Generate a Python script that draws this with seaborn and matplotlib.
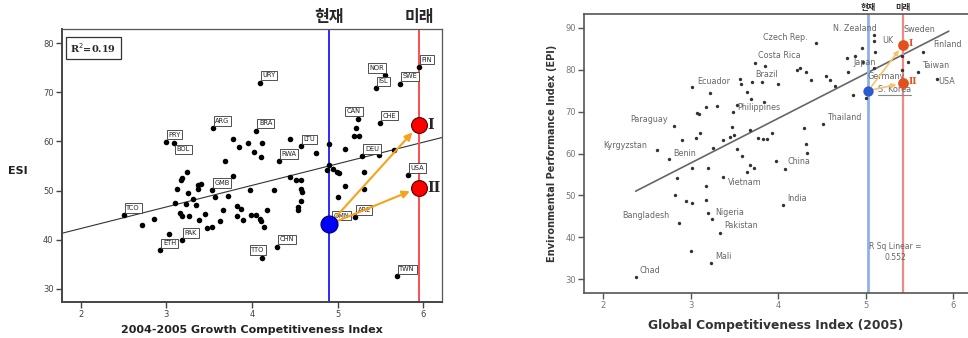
import numpy as np
import pandas as pd
import matplotlib
matplotlib.use("Agg")
import matplotlib.pyplot as plt
import seaborn as sns

# ---------------- left panel data (ESI vs GCI 2004-2005) ----------------
left_gci = [2.50, 2.72, 2.85, 2.93, 2.99, 3.09, 3.03, 3.10, 3.12, 3.16, 3.18, 3.17, 3.18, 3.18,
            3.24, 3.23, 3.25, 3.27, 3.31, 3.35, 3.37, 3.41, 3.37, 3.38, 3.45, 3.48, 3.53, 3.53,
            3.54, 3.57, 3.63, 3.66, 3.68, 3.72, 3.78, 3.78, 3.82, 3.82, 3.85, 3.87, 3.89, 3.95,
            3.98, 3.99, 4.02, 4.05, 4.05, 4.09, 4.09, 4.11, 4.11, 4.12, 4.12, 4.14, 4.17, 4.26,
            4.29, 4.31, 4.44, 4.44, 4.52, 4.57, 4.57, 4.57, 4.58, 4.57, 4.54, 4.54, 4.75, 4.88,
            4.90, 4.90, 4.95, 4.99, 5.02, 5.00, 5.09, 5.09, 5.20, 5.19, 5.25, 5.22, 5.24, 5.29,
            5.31, 5.31, 5.45, 5.48, 5.49, 5.56, 5.66, 5.69, 5.73, 5.82, 5.95, 4.92]
left_esi = [45.0, 42.9, 44.2, 37.8, 59.9, 59.7, 41.2, 47.5, 50.3, 45.4, 44.8, 52.2, 52.6, 39.9,
            53.7, 47.3, 49.5, 44.8, 48.2, 47.1, 51.2, 51.4, 50.3, 44.1, 45.3, 42.4, 42.5, 50.1,
            62.7, 48.6, 43.7, 46.1, 56.1, 48.8, 52.9, 60.4, 46.8, 44.8, 58.9, 46.2, 44.1, 59.7,
            50.1, 45.0, 57.8, 62.2, 45.1, 44.2, 72.0, 43.7, 56.9, 59.7, 36.3, 42.6, 46.1, 50.2,
            38.6, 56.0, 60.5, 52.8, 52.1, 52.1, 59.0, 50.3, 49.7, 47.8, 46.7, 46.1, 57.7, 54.1,
            59.4, 55.3, 54.3, 53.7, 53.6, 48.7, 58.4, 50.9, 44.6, 61.1, 61.1, 62.8, 64.5, 57.0,
            53.7, 50.3, 70.8, 57.3, 63.8, 73.5, 58.2, 32.5, 71.8, 53.1, 75.2, 43.4]
left_codes = ["TCO", "", "", "ETH", "PRY", "BOL", "", "", "", "", "", "", "", "PAK",
              "", "", "", "", "", "", "", "", "", "", "", "", "", "GMB",
              "ARG", "", "", "", "", "", "", "", "", "", "", "", "", "",
              "", "", "", "BRA", "", "", "URY", "", "", "", "TTO", "", "", "",
              "CHN", "RWA", "", "", "", "", "LTU", "", "", "", "", "", "", "",
              "", "", "", "", "", "", "", "", "ARE", "", "", "", "CAN", "DEU",
              "", "", "ISL", "", "CHE", "NOR", "", "TWN", "SWE", "USA", "FIN", "OMN"]
left_label_mode = {"BOL": "below", "NOR": "left", "TTO": "center", "CAN": "center"}
left_fit_x = [1.78, 6.22]
left_fit_y = [41.3, 60.8]
left_now = (4.90, 43.1)
left_future_x = [5.95, 5.95]
left_future_y = [63.3, 50.6]
future_tags = ["I", "II"]
left_r2_text = "R$^2$=0.19"

# ---------------- right panel data (EPI vs GCI 2005) ----------------
right_gci = [2.38, 2.62, 2.75, 2.81, 2.82, 2.84, 2.87, 2.90, 2.95, 3.00, 3.01, 3.01, 3.01, 3.06,
             3.07, 3.09, 3.11, 3.17, 3.18, 3.18, 3.20, 3.20, 3.22, 3.23, 3.24, 3.26, 3.30, 3.34,
             3.37, 3.37, 3.45, 3.47, 3.48, 3.50, 3.53, 3.53, 3.56, 3.57, 3.59, 3.64, 3.64, 3.68,
             3.68, 3.69, 3.70, 3.72, 3.74, 3.77, 3.81, 3.83, 3.84, 3.85, 3.87, 3.93, 3.97, 4.00,
             4.05, 4.08, 4.21, 4.25, 4.29, 4.32, 4.32, 4.33, 4.38, 4.43, 4.51, 4.55, 4.59, 4.65,
             4.79, 4.80, 4.85, 4.88, 4.96, 4.97, 5.00, 5.09, 5.10, 5.11, 5.09, 5.41, 5.48, 5.41,
             5.60, 5.66, 5.81]
right_epi = [30.5, 60.8, 58.6, 66.6, 50.0, 54.2, 43.5, 63.2, 48.6, 36.7, 48.2, 56.6, 75.8, 63.6,
             69.6, 69.4, 65.0, 48.8, 52.2, 71.0, 56.6, 45.7, 74.4, 33.9, 44.4, 61.3, 71.4, 41.1,
             54.5, 63.2, 64.0, 66.4, 69.8, 64.4, 61.0, 71.5, 77.8, 76.6, 59.3, 74.8, 55.7, 57.2,
             65.6, 73.0, 77.1, 56.6, 81.7, 63.8, 77.1, 63.4, 72.3, 80.8, 63.4, 65.0, 58.2, 76.6,
             47.6, 56.4, 80.0, 80.5, 66.2, 79.4, 62.2, 60.2, 77.6, 86.5, 67.0, 78.5, 77.6, 76.0,
             82.7, 79.5, 73.9, 83.3, 85.3, 81.8, 73.2, 88.3, 86.9, 84.3, 80.4, 83.3, 81.9, 80.0,
             79.5, 84.3, 77.9]
right_names = ["Chad", "Mali", "Bangladesh", "Nigeria", "Pakistan", "Vietnam", "India", "China",
               "Benin", "Kyrgyzstan", "Paraguay", "Thailand", "Philippines", "Ecuador", "Brazil",
               "Costa Rica", "Czech Rep.", "N. Zealand", "Japan", "Germany", "UK", "Sweden",
               "Finland", "Taiwan", "USA", "S. Korea"]
right_name_x = [2.42, 3.28, 2.22, 3.28, 3.38, 3.42, 4.10, 4.11, 2.80, 2.00, 2.31, 4.56, 3.53,
                3.07, 3.74, 3.77, 3.83, 4.63, 4.86, 5.02, 5.19, 5.43, 5.77, 5.65, 5.83, 5.14]
right_name_y = [32.1, 35.4, 45.2, 45.9, 42.8, 53.1, 49.3, 58.0, 60.0, 62.0, 68.2, 68.7, 71.1,
                77.1, 78.9, 83.3, 87.6, 89.9, 81.8, 78.3, 86.9, 89.7, 86.1, 80.9, 77.1, 75.4]
right_fit_x = [2.37, 5.95]
right_fit_y = [51.0, 89.2]
right_now = (5.03, 75.0)
right_future_x = [5.43, 5.43]
right_future_y = [86.0, 76.8]
right_r2_text = "R Sq Linear =\n0.552"

now_label = "현재"
future_label = "미래"

# ---------------- figure ----------------
sns.set_style("white")
plt.rcParams["font.family"] = ["DejaVu Sans", "Noto Sans CJK KR"]
KFONT = ["Noto Sans CJK KR", "DejaVu Sans"]

fig = plt.figure(figsize=(9.68, 3.38), dpi=100)
axL = fig.add_axes([0.064, 0.1065, 0.3926, 0.8077])
axR = fig.add_axes([0.6033, 0.1331, 0.3967, 0.8254])

# ======== LEFT ========
dfL = pd.DataFrame({"gci": left_gci, "esi": left_esi, "code": left_codes})
sns.lineplot(x=left_fit_x, y=left_fit_y, ax=axL, color="#333333", lw=0.8, zorder=2)
sns.scatterplot(data=dfL, x="gci", y="esi", ax=axL, color="black", s=16,
                edgecolor="black", linewidth=0, zorder=3)
box = dict(boxstyle="square,pad=0.25", fc="white", ec="#333333", lw=0.6)
for _, r in dfL[dfL["code"] != ""].iterrows():
    mode = left_label_mode.get(r["code"], "ur")
    if mode == "below":
        off, ha, va = (2, -2.5), "left", "top"
    elif mode == "left":
        off, ha, va = (-1, 3), "right", "bottom"
    elif mode == "center":
        off, ha, va = (-3, 3.5), "center", "bottom"
    else:
        off, ha, va = (2, 3), "left", "bottom"
    axL.annotate(r["code"], (r["gci"], r["esi"]), xytext=off, textcoords="offset points",
                 ha=ha, va=va, fontsize=4.8, color="#222222", bbox=box, zorder=4)

axL.axvline(left_now[0], color="#2a2aff", lw=1.4, zorder=2)
axL.axvline(left_future_x[0], color="#ff4d4d", lw=1.4, zorder=2)
for fx, fy in zip(left_future_x, left_future_y):
    axL.annotate("", xy=(fx, fy), xytext=left_now,
                 arrowprops=dict(arrowstyle="-|>", color="#f7a21b", lw=1.5,
                                 mutation_scale=11, shrinkA=6, shrinkB=7), zorder=5)
sns.scatterplot(x=[left_now[0]], y=[left_now[1]], ax=axL, color="#0000ff", s=150,
                edgecolor="#000066", linewidth=0.8, zorder=6)
sns.scatterplot(x=left_future_x, y=left_future_y, ax=axL, color="#ff0000", s=130,
                edgecolor="#550000", linewidth=0.8, zorder=6)
for fx, fy, t in zip(left_future_x, left_future_y, future_tags):
    axL.annotate(t, (fx, fy), xytext=(6, 0), textcoords="offset points", ha="left",
                 va="center", fontsize=10, fontweight="bold", family="serif", zorder=7)
axL.annotate(now_label, (left_now[0], 1.0), xycoords=("data", "axes fraction"),
             xytext=(0, 3), textcoords="offset points", ha="center", va="bottom",
             fontsize=11.5, fontweight="black", family=KFONT)
axL.annotate(future_label, (left_future_x[0], 1.0), xycoords=("data", "axes fraction"),
             xytext=(0, 3), textcoords="offset points", ha="center", va="bottom",
             fontsize=11.5, fontweight="black", family=KFONT)
axL.text(0.022, 0.955, left_r2_text, transform=axL.transAxes, ha="left", va="top",
         fontsize=7, fontweight="bold", family="serif",
         bbox=dict(boxstyle="square,pad=0.45", fc="white", ec="#333333", lw=0.9))

axL.set_xlim(1.78, 6.22)
axL.set_ylim(27.3, 82.9)
axL.set_xticks([2, 3, 4, 5, 6])
axL.set_yticks([30, 40, 50, 60, 70, 80])
axL.tick_params(axis="both", direction="out", length=4, width=1, color="#444444",
                labelsize=6, labelcolor="#444444", pad=2, bottom=True, left=True)
axL.set_xlabel("2004-2005 Growth Competitiveness Index", fontsize=8, fontweight="bold",
               color="#222222", labelpad=4)
axL.set_ylabel("")
axL.text(-0.142, 0.48, "ESI", transform=axL.transAxes, ha="left", va="center",
         fontsize=8, fontweight="bold", color="#222222")
for s in ["left", "bottom"]:
    axL.spines[s].set_linewidth(1.4)
    axL.spines[s].set_color("#444444")
for s in ["top", "right"]:
    axL.spines[s].set_linewidth(0.9)
    axL.spines[s].set_color("#555555")

# ======== RIGHT ========
dfR = pd.DataFrame({"gci": right_gci, "epi": right_epi})
sns.lineplot(x=right_fit_x, y=right_fit_y, ax=axR, color="#666666", lw=1.2, zorder=2)
sns.scatterplot(data=dfR, x="gci", y="epi", ax=axR, color="#333333", s=6,
                linewidth=0, zorder=3)
name_texts = {}
for nm, nx, ny in zip(right_names, right_name_x, right_name_y):
    name_texts[nm] = axR.text(nx, ny, nm, ha="left", va="center", fontsize=5.8,
                              color="#666666", zorder=4)

axR.axvline(right_now[0], color="#8fb0e8", lw=2.0, zorder=2)
axR.axvline(right_future_x[0], color="#f08a8a", lw=1.6, zorder=2)
for fx, fy in zip(right_future_x, right_future_y):
    axR.annotate("", xy=(fx, fy), xytext=right_now,
                 arrowprops=dict(arrowstyle="-|>", color="#f6c46a", lw=1.2,
                                 mutation_scale=7, shrinkA=4, shrinkB=5), zorder=5)
sns.scatterplot(x=[right_now[0]], y=[right_now[1]], ax=axR, color="#2a5bd0", s=55,
                linewidth=0, zorder=6)
sns.scatterplot(x=right_future_x, y=right_future_y, ax=axR, color="#e2501c", s=60,
                linewidth=0, zorder=6)
for fx, fy, t in zip(right_future_x, right_future_y, future_tags):
    axR.annotate(t, (fx, fy), xytext=(4, 1), textcoords="offset points", ha="left",
                 va="center", fontsize=6.5, fontweight="bold", color="#e8501e",
                 family="serif", zorder=7)
axR.annotate(now_label, (right_now[0], 1.0), xycoords=("data", "axes fraction"),
             xytext=(0, 1.5), textcoords="offset points", ha="center", va="bottom",
             fontsize=6, fontweight="black", family=KFONT, annotation_clip=False)
axR.annotate(future_label, (right_future_x[0], 1.0), xycoords=("data", "axes fraction"),
             xytext=(0, 1.5), textcoords="offset points", ha="center", va="bottom",
             fontsize=6, fontweight="black", family=KFONT, annotation_clip=False)
axR.text(5.34, 36.5, right_r2_text, ha="center", va="center", fontsize=5.5,
         color="#666666", linespacing=1.2)

axR.set_xlim(1.78, 6.17)
axR.set_ylim(26.7, 93.3)
axR.set_xticks([2, 3, 4, 5, 6])
axR.set_yticks([30, 40, 50, 60, 70, 80, 90])
axR.tick_params(axis="both", direction="out", length=4, width=1, color="#555555",
                labelsize=6, labelcolor="#777777", pad=2, bottom=True, left=True)
axR.set_xlabel("Global Competitiveness Index (2005)", fontsize=8.8, fontweight="bold",
               color="#333333", labelpad=6)
axR.set_ylabel("Environmental Performance Index (EPI)", fontsize=7, fontweight="bold",
               color="#333333", labelpad=6)
for s in ["left", "bottom", "top"]:
    axR.spines[s].set_linewidth(1.2)
    axR.spines[s].set_color("#555555")
axR.spines["right"].set_visible(False)

# underline under "S. Korea", derived from the text's own extent
fig.canvas.draw()
bb = name_texts["S. Korea"].get_window_extent()
inv = axR.transData.inverted()
(x0, y0), (x1, _) = inv.transform([(bb.x0, bb.y0 - 1.5), (bb.x1, bb.y0 - 1.5)])
axR.plot([x0, x1], [y0, y0], color="#888888", lw=0.8, zorder=4)

fig.savefig("out.png", dpi=100)
